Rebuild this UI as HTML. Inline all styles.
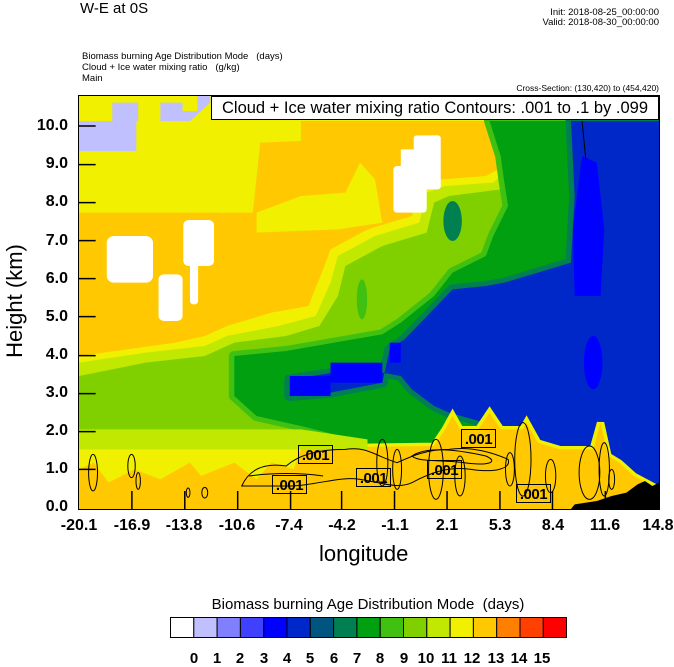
<!DOCTYPE html>
<html><head><meta charset="utf-8"><style>
body{margin:0;background:#fff;width:674px;height:667px;overflow:hidden;font-family:"Liberation Sans",sans-serif;position:relative;}
.t{position:absolute;white-space:nowrap;color:#000;}
.lab{position:absolute;width:35px;height:19px;border:1px solid #000;box-sizing:border-box;font-size:15px;line-height:19px;text-align:center;font-weight:bold;letter-spacing:-0.5px;}
</style></head><body>
<div class="t" style="left:80px;top:0px;font-size:15px;">W-E at 0S</div>
<div class="t" style="right:15px;top:7px;font-size:9.5px;">Init: 2018-08-25_00:00:00</div>
<div class="t" style="right:15px;top:17px;font-size:9.5px;">Valid: 2018-08-30_00:00:00</div>
<div class="t" style="left:82px;top:51px;font-size:9.5px;line-height:11px;">Biomass burning Age Distribution Mode &nbsp;&nbsp;(days)<br>Cloud + Ice water mixing ratio &nbsp;&nbsp;(g/kg)<br>Main</div>
<div class="t" style="right:15px;top:83px;font-size:8.5px;">Cross-Section: (130,420) to (454,420)</div>

<svg style="position:absolute;left:79px;top:96px" width="580" height="413" viewBox="0 0 1568 1239" preserveAspectRatio="none">
<rect x="0" y="0" width="1568" height="1239" fill="#ffc800"/>
<polygon fill="#f0f000" points="0,0 1100,0 1100,75 600,75 600,135 490,140 470,350 0,350"/>
<polygon fill="#f0f000" points="480,350 600,300 720,290 760,200 800,250 820,380 700,400 480,410"/>
<polygon fill="#f0f000" points="0,780 260,740 340,720 400,690 520,650 620,630 660,520 680,460 780,400 900,360 920,270 980,250 1100,240 1150,210 1105,75 1568,75 1568,1239 0,1239"/>
<polygon fill="#c0e800" points="0,800 180,770 340,750 400,720 540,690 640,660 680,560 700,480 800,420 920,380 940,290 990,270 1120,260 1150,230 1110,75 1568,75 1568,1239 0,1239"/>
<polygon fill="#80d000" points="0,840 180,800 340,780 420,740 560,720 650,690 700,600 720,510 820,450 940,410 960,320 1000,300 1140,280 1140,200 1100,75 1568,75 1568,1239 0,1239"/>
<polygon fill="#40c010" stroke="#40c010" stroke-width="30" stroke-linejoin="round" points="1110,75 1568,75 1568,1239 780,1239 780,1040 600,990 480,960 420,900 420,780 560,765 690,740 820,715 870,680 960,600 1010,530 1100,480 1120,420 1160,330 1150,260 1140,180"/>
<polygon fill="#00a010" points="1110,75 1568,75 1568,1239 780,1239 780,1040 600,990 480,960 420,900 420,780 560,765 690,740 820,715 870,680 960,600 1010,530 1100,480 1120,420 1160,330 1150,260 1140,180"/>
<ellipse cx="1010" cy="375" rx="25" ry="60" fill="#008050"/>
<ellipse cx="765" cy="610" rx="14" ry="60" fill="#40c010"/>
<polygon fill="#0028c8" stroke="#008050" stroke-width="30" stroke-linejoin="round" points="1330,75 1568,75 1568,1239 1300,1060 1240,1040 1130,990 1000,950 960,930 900,880 870,840 820,830 690,830 570,850 570,900 680,890 820,860 840,760 880,730 950,650 1010,580 1100,570 1150,560 1330,500 1340,300"/>
<polygon fill="#0028c8" points="1330,75 1568,75 1568,1239 1300,1060 1240,1040 1130,990 1000,950 960,930 900,880 870,840 820,830 690,830 570,850 570,900 680,890 820,860 840,760 880,730 950,650 1010,580 1100,570 1150,560 1330,500 1340,300"/>
<polygon fill="#0000ff" points="1360,180 1400,200 1420,400 1410,600 1340,600 1335,400"/>
<ellipse cx="1390" cy="800" rx="25" ry="80" fill="#0000ff"/>
<rect x="570" y="840" width="110" height="60" fill="#0000ff"/>
<rect x="680" y="800" width="140" height="60" fill="#0000ff"/>
<rect x="840" y="740" width="30" height="60" fill="#0000ff"/>
<polygon fill="#f0f000" stroke="#f0f000" stroke-width="20" points="0,1065 960,1050 990,1000 1010,960 1030,1000 1080,1000 1110,950 1140,1000 1200,1000 1210,980 1240,1040 1300,1060 1390,1060 1410,980 1430,1080 1460,1100 1500,1140 1568,1180 1568,1239 0,1239"/>
<polygon fill="#ffc800" points="0,1065 960,1050 990,1000 1010,960 1030,1000 1080,1000 1110,950 1140,1000 1200,1000 1210,980 1240,1040 1300,1060 1390,1060 1410,980 1430,1080 1460,1100 1500,1140 1568,1180 1568,1239 0,1239"/>
<polygon fill="#c0e800" points="0,1000 600,1000 780,1030 780,1060 0,1062"/>
<polygon fill="#f0f000" points="0,1060 600,1060 580,1120 520,1100 480,1150 420,1100 330,1140 300,1100 220,1150 150,1120 80,1160 40,1100 0,1120"/>
<polygon fill="#c0c0ff" points="0,75 90,75 90,20 160,20 160,75 220,75 220,20 280,20 280,45 320,45 320,0 355,0 355,20 300,75 155,75 155,165 0,165"/>
<g fill="#fff">
<rect x="75" y="420" width="125" height="140" rx="20"/>
<rect x="215" y="535" width="65" height="140" rx="15"/>
<rect x="282" y="372" width="83" height="138" rx="15"/>
<rect x="300" y="500" width="22" height="125" rx="10"/>
<rect x="905" y="118" width="73" height="162" rx="8"/>
<rect x="850" y="210" width="90" height="140" rx="10"/>
<rect x="870" y="160" width="40" height="60"/>
</g>
<polygon fill="#000" points="1330,1239 1340,1225 1400,1215 1440,1200 1480,1190 1510,1165 1530,1155 1550,1170 1568,1160 1568,1239"/>
<g fill="none" stroke="#000" stroke-width="1">
<path vector-effect="non-scaling-stroke" d="M440,1170 C460,1120 500,1100 560,1110 C600,1070 660,1060 720,1060 C780,1050 800,1080 860,1100 C900,1080 940,1060 1000,1060 C1060,1050 1120,1070 1160,1090 C1170,1120 1120,1130 1060,1120 C1000,1110 950,1130 900,1160 C860,1180 820,1160 760,1150 C700,1140 640,1170 560,1170 Z"/>
<path vector-effect="non-scaling-stroke" d="M460,1140 C520,1130 600,1130 660,1140"/>
<path vector-effect="non-scaling-stroke" d="M900,1080 C940,1050 1020,1060 1100,1080 C1140,1100 1100,1110 1040,1100 C980,1090 920,1100 900,1080 Z"/>
<ellipse vector-effect="non-scaling-stroke" cx="38" cy="1130" rx="12" ry="55"/>
<ellipse vector-effect="non-scaling-stroke" cx="142" cy="1110" rx="10" ry="35"/>
<ellipse vector-effect="non-scaling-stroke" cx="160" cy="1155" rx="6" ry="25"/>
<ellipse vector-effect="non-scaling-stroke" cx="295" cy="1190" rx="5" ry="14"/>
<ellipse vector-effect="non-scaling-stroke" cx="340" cy="1190" rx="8" ry="16"/>
<ellipse vector-effect="non-scaling-stroke" cx="820" cy="1100" rx="15" ry="70"/>
<ellipse vector-effect="non-scaling-stroke" cx="860" cy="1120" rx="12" ry="60"/>
<ellipse vector-effect="non-scaling-stroke" cx="965" cy="1120" rx="20" ry="90"/>
<ellipse vector-effect="non-scaling-stroke" cx="1030" cy="1140" rx="14" ry="60"/>
<ellipse vector-effect="non-scaling-stroke" cx="1200" cy="1090" rx="22" ry="110"/>
<ellipse vector-effect="non-scaling-stroke" cx="1165" cy="1120" rx="12" ry="50"/>
<ellipse vector-effect="non-scaling-stroke" cx="1275" cy="1140" rx="14" ry="50"/>
<ellipse vector-effect="non-scaling-stroke" cx="1380" cy="1130" rx="28" ry="80"/>
<ellipse vector-effect="non-scaling-stroke" cx="1420" cy="1120" rx="14" ry="80"/>
<ellipse vector-effect="non-scaling-stroke" cx="1440" cy="1150" rx="8" ry="30"/>
<path vector-effect="non-scaling-stroke" d="M1360,75 L1370,190"/>
</g>
<g stroke="#000" stroke-width="1.5">
<line vector-effect="non-scaling-stroke" x1="0" y1="1120" x2="45" y2="1120"/>
<line vector-effect="non-scaling-stroke" x1="0" y1="1007" x2="45" y2="1007"/>
<line vector-effect="non-scaling-stroke" x1="0" y1="893" x2="45" y2="893"/>
<line vector-effect="non-scaling-stroke" x1="0" y1="779" x2="45" y2="779"/>
<line vector-effect="non-scaling-stroke" x1="0" y1="662" x2="45" y2="662"/>
<line vector-effect="non-scaling-stroke" x1="0" y1="548" x2="45" y2="548"/>
<line vector-effect="non-scaling-stroke" x1="0" y1="434" x2="45" y2="434"/>
<line vector-effect="non-scaling-stroke" x1="0" y1="320" x2="45" y2="320"/>
<line vector-effect="non-scaling-stroke" x1="0" y1="206" x2="45" y2="206"/>
<line vector-effect="non-scaling-stroke" x1="0" y1="90" x2="45" y2="90"/>
<line vector-effect="non-scaling-stroke" x1="143" y1="1239" x2="143" y2="1185"/>
<line vector-effect="non-scaling-stroke" x1="286" y1="1239" x2="286" y2="1185"/>
<line vector-effect="non-scaling-stroke" x1="429" y1="1239" x2="429" y2="1185"/>
<line vector-effect="non-scaling-stroke" x1="572" y1="1239" x2="572" y2="1185"/>
<line vector-effect="non-scaling-stroke" x1="710" y1="1239" x2="710" y2="1185"/>
<line vector-effect="non-scaling-stroke" x1="853" y1="1239" x2="853" y2="1185"/>
<line vector-effect="non-scaling-stroke" x1="995" y1="1239" x2="995" y2="1185"/>
<line vector-effect="non-scaling-stroke" x1="1138" y1="1239" x2="1138" y2="1185"/>
<line vector-effect="non-scaling-stroke" x1="1280" y1="1239" x2="1280" y2="1185"/>
<line vector-effect="non-scaling-stroke" x1="1423" y1="1239" x2="1423" y2="1185"/>
</g>
</svg>
<div style="position:absolute;left:78px;top:95px;width:580px;height:413px;border:1px solid #000;"></div>
<div class="t" style="left:211px;top:96px;width:448px;height:24px;background:#fff;border:1px solid #000;box-sizing:border-box;font-size:16.5px;line-height:22px;text-align:center;">Cloud + Ice water mixing ratio Contours: .001 to .1 by .099</div>

<div class="lab" style="left:298px;top:445px;">.001</div>
<div class="lab" style="left:272px;top:475px;">.001</div>
<div class="lab" style="left:356px;top:468px;">.001</div>
<div class="lab" style="left:427px;top:460px;">.001</div>
<div class="lab" style="left:461px;top:429px;">.001</div>
<div class="lab" style="left:516px;top:484px;">.001</div>

<div style="position:absolute;left:0;top:0;width:68px;height:520px;font-size:16px;font-weight:bold;">
<div class="t" style="left:0;width:68px;text-align:right;top:117px;">10.0</div>
<div class="t" style="left:0;width:68px;text-align:right;top:155px;">9.0</div>
<div class="t" style="left:0;width:68px;text-align:right;top:193px;">8.0</div>
<div class="t" style="left:0;width:68px;text-align:right;top:232px;">7.0</div>
<div class="t" style="left:0;width:68px;text-align:right;top:270px;">6.0</div>
<div class="t" style="left:0;width:68px;text-align:right;top:308px;">5.0</div>
<div class="t" style="left:0;width:68px;text-align:right;top:346px;">4.0</div>
<div class="t" style="left:0;width:68px;text-align:right;top:384px;">3.0</div>
<div class="t" style="left:0;width:68px;text-align:right;top:422px;">2.0</div>
<div class="t" style="left:0;width:68px;text-align:right;top:460px;">1.0</div>
<div class="t" style="left:0;width:68px;text-align:right;top:498px;">0.0</div>
</div>
<div style="position:absolute;left:0;top:517px;width:674px;height:20px;font-size:16px;font-weight:bold;">
<div class="t" style="left:59px;width:40px;text-align:center;">-20.1</div>
<div class="t" style="left:112px;width:40px;text-align:center;">-16.9</div>
<div class="t" style="left:164px;width:40px;text-align:center;">-13.8</div>
<div class="t" style="left:217px;width:40px;text-align:center;">-10.6</div>
<div class="t" style="left:269px;width:40px;text-align:center;">-7.4</div>
<div class="t" style="left:322px;width:40px;text-align:center;">-4.2</div>
<div class="t" style="left:375px;width:40px;text-align:center;">-1.1</div>
<div class="t" style="left:427px;width:40px;text-align:center;">2.1</div>
<div class="t" style="left:480px;width:40px;text-align:center;">5.3</div>
<div class="t" style="left:533px;width:40px;text-align:center;">8.4</div>
<div class="t" style="left:585px;width:40px;text-align:center;">11.6</div>
<div class="t" style="left:642px;width:32px;text-align:center;">14.8</div>
</div>
<div class="t" style="left:319px;top:541px;font-size:22px;">longitude</div>
<div class="t" style="left:-50px;top:288px;font-size:22px;width:130px;text-align:center;transform:rotate(-90deg);">Height (km)</div>

<div class="t" style="left:170px;top:596px;width:396px;text-align:center;font-size:15px;">Biomass burning Age Distribution Mode &nbsp;(days)</div>
<svg style="position:absolute;left:170px;top:617px" width="397" height="21">
<g stroke="#000" stroke-width="1">
<rect x="0.5" y="0.5" width="23.3" height="20" fill="#ffffff"/>
<rect x="23.8" y="0.5" width="23.3" height="20" fill="#c0c0ff"/>
<rect x="47.1" y="0.5" width="23.3" height="20" fill="#8080ff"/>
<rect x="70.4" y="0.5" width="23.3" height="20" fill="#4040ff"/>
<rect x="93.7" y="0.5" width="23.3" height="20" fill="#0000ff"/>
<rect x="117" y="0.5" width="23.3" height="20" fill="#0028c8"/>
<rect x="140.3" y="0.5" width="23.3" height="20" fill="#005580"/>
<rect x="163.6" y="0.5" width="23.3" height="20" fill="#008050"/>
<rect x="186.9" y="0.5" width="23.3" height="20" fill="#00a010"/>
<rect x="210.2" y="0.5" width="23.3" height="20" fill="#40c010"/>
<rect x="233.5" y="0.5" width="23.3" height="20" fill="#80d000"/>
<rect x="256.8" y="0.5" width="23.3" height="20" fill="#c0e800"/>
<rect x="280.1" y="0.5" width="23.3" height="20" fill="#f0f000"/>
<rect x="303.4" y="0.5" width="23.3" height="20" fill="#ffc800"/>
<rect x="326.7" y="0.5" width="23.3" height="20" fill="#ff8000"/>
<rect x="350" y="0.5" width="23.3" height="20" fill="#ff4000"/>
<rect x="373.3" y="0.5" width="23.3" height="20" fill="#ff0000"/>
</g></svg>
<div style="position:absolute;left:0;top:650px;width:674px;height:17px;font-size:15px;font-weight:bold;">
<div class="t" style="left:184px;width:20px;text-align:center;">0</div>
<div class="t" style="left:207px;width:20px;text-align:center;">1</div>
<div class="t" style="left:230px;width:20px;text-align:center;">2</div>
<div class="t" style="left:254px;width:20px;text-align:center;">3</div>
<div class="t" style="left:277px;width:20px;text-align:center;">4</div>
<div class="t" style="left:300px;width:20px;text-align:center;">5</div>
<div class="t" style="left:324px;width:20px;text-align:center;">6</div>
<div class="t" style="left:347px;width:20px;text-align:center;">7</div>
<div class="t" style="left:370px;width:20px;text-align:center;">8</div>
<div class="t" style="left:394px;width:20px;text-align:center;">9</div>
<div class="t" style="left:414px;width:24px;text-align:center;">10</div>
<div class="t" style="left:437px;width:24px;text-align:center;">11</div>
<div class="t" style="left:460px;width:24px;text-align:center;">12</div>
<div class="t" style="left:484px;width:24px;text-align:center;">13</div>
<div class="t" style="left:507px;width:24px;text-align:center;">14</div>
<div class="t" style="left:530px;width:24px;text-align:center;">15</div>
</div>
</body></html>
